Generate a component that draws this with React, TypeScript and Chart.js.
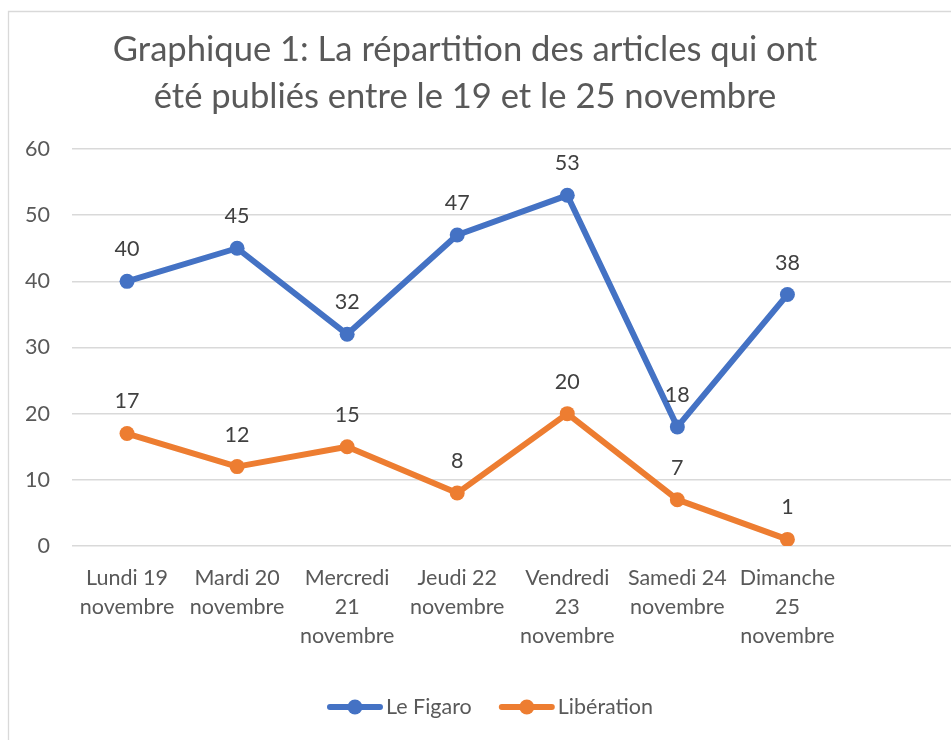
import { useEffect, useRef } from "react";
import { Chart, registerables } from "chart.js";

Chart.register(...registerables);

const categories: string[][] = [
  ["Lundi 19", "novembre"],
  ["Mardi 20", "novembre"],
  ["Mercredi", "21", "novembre"],
  ["Jeudi 22", "novembre"],
  ["Vendredi", "23", "novembre"],
  ["Samedi 24", "novembre"],
  ["Dimanche", "25", "novembre"],
  [""],
];
const figaro = [40, 45, 32, 47, 53, 18, 38];
const liberation = [17, 12, 15, 8, 20, 7, 1];
const seriesNames = ["Le Figaro", "Libération"];
const seriesColors = ["#4472C4", "#ED7D31"];
const titleLines = [
  "Graphique 1: La répartition des articles qui ont",
  "été publiés entre le 19 et le 25 novembre",
];
const yMin = 0;
const yMax = 60;
const yStep = 10;

const FONT = "Lato";
const TXT = "#595959";

const borderPlugin = {
  id: "frame",
  beforeDraw(chart: any) {
    const { ctx, width, height } = chart;
    ctx.save();
    ctx.fillStyle = "#ffffff";
    ctx.fillRect(0, 0, width, height);
    ctx.strokeStyle = "#d9d9d9";
    ctx.lineWidth = 1.3;
    ctx.beginPath();
    ctx.moveTo(8.5, height);
    ctx.lineTo(8.5, 11.5);
    ctx.lineTo(width, 11.5);
    ctx.stroke();
    ctx.restore();
  },
};

const titlePlugin = {
  id: "customTitle",
  afterDraw(chart: any) {
    const { ctx } = chart;
    ctx.save();
    ctx.font = `34.6px ${FONT}`;
    ctx.fillStyle = TXT;
    ctx.textAlign = "center";
    ctx.textBaseline = "middle";
    titleLines.forEach((line, i) => {
      ctx.fillText(line, 465, 50 + i * 47);
    });
    ctx.restore();
  },
};

const labelPlugin = {
  id: "pointLabels",
  afterDatasetsDraw(chart: any) {
    const { ctx } = chart;
    ctx.save();
    ctx.font = `21.5px ${FONT}`;
    ctx.fillStyle = "#404040";
    ctx.textAlign = "center";
    ctx.textBaseline = "middle";
    chart.data.datasets.forEach((ds: any, i: number) => {
      const meta = chart.getDatasetMeta(i);
      meta.data.forEach((pt: any, j: number) => {
        const v = ds.data[j];
        if (v === null || v === undefined) return;
        ctx.fillText(String(v), pt.x, pt.y - 32);
      });
    });
    ctx.restore();
  },
};

const legendPlugin = {
  id: "customLegend",
  afterDraw(chart: any) {
    const { ctx } = chart;
    ctx.save();
    ctx.font = `21.5px ${FONT}`;
    const markerW = 56;
    const gapText = 3;
    const gapItem = 27;
    const widths = seriesNames.map((n) => ctx.measureText(n).width);
    const total =
      widths.reduce((a, b) => a + b, 0) +
      seriesNames.length * (markerW + gapText) +
      gapItem * (seriesNames.length - 1);
    let x = 490 - total / 2;
    const y = 707;
    seriesNames.forEach((name, i) => {
      ctx.strokeStyle = seriesColors[i];
      ctx.fillStyle = seriesColors[i];
      ctx.lineWidth = 6;
      ctx.lineCap = "round";
      ctx.beginPath();
      ctx.moveTo(x + 3, y);
      ctx.lineTo(x + markerW - 3, y);
      ctx.stroke();
      ctx.beginPath();
      ctx.arc(x + markerW / 2, y, 7.5, 0, Math.PI * 2);
      ctx.fill();
      x += markerW + gapText;
      ctx.fillStyle = TXT;
      ctx.textAlign = "left";
      ctx.textBaseline = "middle";
      ctx.fillText(name, x, y);
      x += widths[i] + gapItem;
    });
    ctx.restore();
  },
};

export default function App() {
  const ref = useRef<HTMLCanvasElement | null>(null);
  useEffect(() => {
    if (!ref.current) return;
    const mk = (name: string, data: number[], color: string) => ({
      label: name,
      data,
      borderColor: color,
      backgroundColor: color,
      borderWidth: 6,
      pointRadius: 7.5,
      pointHoverRadius: 7.5,
      pointBackgroundColor: color,
      pointBorderColor: color,
      pointBorderWidth: 0,
      tension: 0,
      borderCapStyle: "round" as const,
      borderJoinStyle: "round" as const,
    });
    const chart = new Chart(ref.current, {
      type: "line",
      data: {
        labels: categories,
        datasets: [
          mk(seriesNames[0], figaro, seriesColors[0]),
          mk(seriesNames[1], liberation, seriesColors[1]),
        ],
      },
      options: {
        animation: false,
        responsive: true,
        maintainAspectRatio: false,
        layout: { padding: { left: 0, right: 0, top: 149, bottom: 0 } },
        plugins: {
          legend: { display: false },
          tooltip: { enabled: false },
          title: { display: false },
        },
        scales: {
          x: {
            offset: true,
            grid: { display: false, drawTicks: false },
            border: { display: false },
            ticks: {
              color: TXT,
              font: { family: FONT, size: 21.5, lineHeight: 1.35 },
              maxRotation: 0,
              minRotation: 0,
              autoSkip: false,
              padding: 17.5,
            },
            afterFit(scale: any) {
              scale.height = 194;
            },
          },
          y: {
            min: yMin,
            max: yMax,
            grid: { color: "#d9d9d9", lineWidth: 1.5, drawTicks: false },
            border: { display: false },
            ticks: {
              stepSize: yStep,
              color: TXT,
              font: { family: FONT, size: 21.5 },
              padding: 22,
            },
            afterFit(scale: any) {
              scale.width = 72;
            },
          },
        },
      },
      plugins: [borderPlugin, titlePlugin, labelPlugin, legendPlugin],
    });
    return () => chart.destroy();
  }, []);
  return (
    <div style={{ position: "fixed", left: 0, top: 0, width: 951, height: 740, overflow: "hidden", background: "#fff" }}>
      <div style={{ position: "absolute", left: 0, top: 0, width: 960, height: 740 }}>
        <canvas ref={ref} />
      </div>
    </div>
  );
}
